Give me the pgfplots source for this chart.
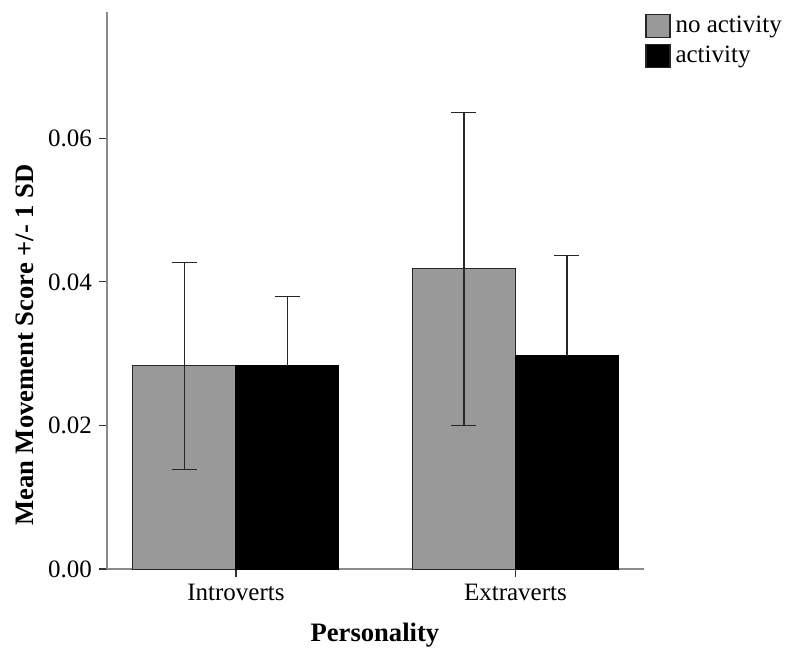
\documentclass[border=0pt]{standalone}
\usepackage{pgfplots}
\pgfplotsset{compat=1.18}
\usepackage{fontspec}
\setmainfont{Liberation Serif}
\definecolor{barGrey}{HTML}{999999}
\definecolor{axGrey}{HTML}{8A8A8A}
\begin{document}
\begin{tikzpicture}
\path[use as bounding box] (-53.5pt,-43pt) rectangle (339.5pt,284.5pt);
\begin{axis}[
  at={(0,0)}, anchor=south west,
  width=268.5pt, height=278.5pt, scale only axis,
  xmin=-0.4615, xmax=1.46,
  ymin=0, ymax=0.0776,
  xtick={0,1}, xticklabels={Introverts,Extraverts},
  ytick={0,0.02,0.04,0.06},
  scaled y ticks=false,
  yticklabel style={/pgf/number format/.cd, fixed, fixed zerofill, precision=2, assume math mode=true},
  ticklabel style={font=\fontsize{12.5}{15}\selectfont},
  axis x line*=bottom, axis y line*=left,
  axis line style={axGrey, line width=0.7pt},
  tick align=outside, major tick length=4pt,
  tick style={black!80, line width=0.6pt},
  every axis x label/.style={at={(axis description cs:0.499,-0.1185)}, anchor=center},
  every axis y label/.style={at={(axis description cs:-0.1527,0.402)}, rotate=90, anchor=center},
  label style={font=\fontsize{13.3}{16}\bfseries\selectfont},
  xlabel={Personality},
  ylabel={Mean Movement Score +/- 1 SD},
  ybar=0pt, bar width=0.3685,
  legend style={at={(rel axis cs:1.0019,0.998)}, anchor=north west, draw=none, fill=none,
    font=\fontsize{12.5}{15}\selectfont, row sep=3pt, inner sep=0pt,
    nodes={inner sep=1pt, anchor=west}},
  legend cell align=left,
  legend image code/.code={\draw[#1, draw=black!85, line width=0.6pt] (0pt,-5.75pt) rectangle (12pt,5.75pt); \path (13.5pt,0pt);},
]
\addplot[fill=barGrey, draw=black!85, line width=0.5pt, bar shift=-0.18425,
  error bars/y dir=both, error bars/y explicit,
  error bars/error bar style={black!85, line width=0.6pt},
  error bars/error mark options={black!85, mark size=6.25pt, line width=0.7pt, rotate=90}]
  coordinates {(0,0.0283) +- (0,0.0144) (1,0.0418) +- (0,0.0218)};
\addplot[fill=black, draw=black, line width=0.5pt, bar shift=0.18425,
  error bars/y dir=plus, error bars/y explicit,
  error bars/error bar style={black!85, line width=0.6pt},
  error bars/error mark options={black!85, mark size=6.25pt, line width=0.7pt, rotate=90}]
  coordinates {(0,0.0283) +- (0,0.0097) (1,0.0297) +- (0,0.0140)};
\legend{no activity, activity}
\end{axis}
\end{tikzpicture}
\end{document}
